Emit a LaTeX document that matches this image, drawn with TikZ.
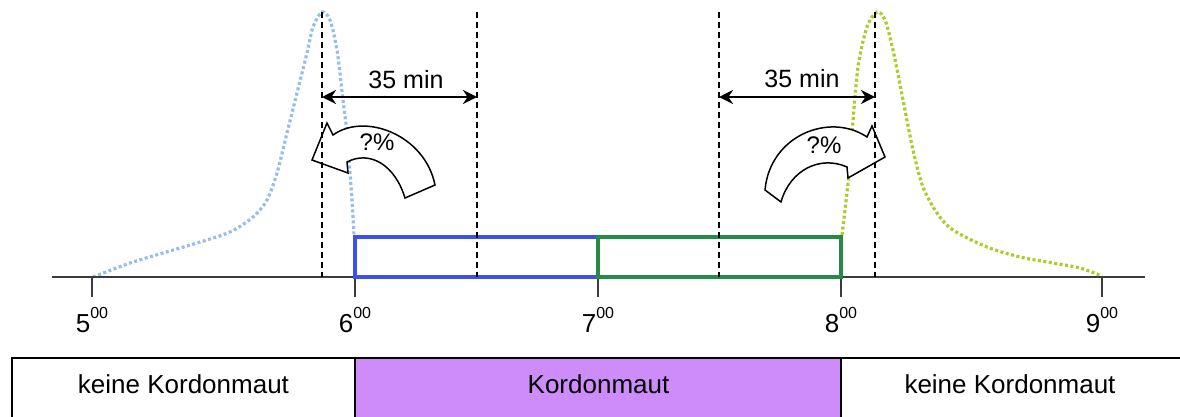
\documentclass[tikz,border=0pt]{standalone}
\usepackage{fontspec}
\setmainfont{Liberation Sans}
\usetikzlibrary{arrows.meta}
\definecolor{kblue}{RGB}{60,80,235}
\definecolor{kgreen}{RGB}{35,140,70}
\definecolor{lblue}{RGB}{150,190,235}
\definecolor{lgreen}{RGB}{170,205,40}
\definecolor{kpurple}{RGB}{206,140,250}
\definecolor{axisgray}{RGB}{60,60,60}
\newcommand{\tlab}[1]{#1\raisebox{14pt}{\fontsize{16}{16}\selectfont 00}}
\begin{document}
\begin{tikzpicture}[x=1pt,y=-1pt,
  big/.style={font=\fontsize{25}{28}\selectfont, inner sep=0pt},
  cell/.style={font=\fontsize{26}{30}\selectfont, inner sep=0pt, anchor=base},
  ticklab/.style={font=\fontsize{26}{30}\selectfont, inner sep=0pt, anchor=base},
  guide/.style={draw=black, line width=1.8pt, dash pattern=on 6pt off 4pt},
  dimarrow/.style={draw=black, line width=2.8pt, {Stealth[length=14pt,width=14pt]}-{Stealth[length=14pt,width=14pt]}},
  distcurve/.style={line width=3.2pt, dash pattern=on 3pt off 2.5pt},
  bendarrow/.style={draw=black, fill=white, line width=1.5pt, line join=miter},
  tickline/.style={draw=axisgray, line width=1.8pt}
]
\useasboundingbox (0,0) rectangle (1180,416);

% distribution curves
\draw[distcurve, lblue] plot[smooth, tension=0.5] coordinates {(93,277) (130,263) (163,253) (197,243) (230,232) (253,217) (267,200) (277,173) (287,133) (297,93) (307,53) (313,27) (322,12) (330,20) (337,50) (343,100) (347,133) (350,173) (352,200) (354,235)};
\draw[distcurve, lgreen] plot[smooth, tension=0.5] coordinates {(842,235) (848,183) (852,133) (858,67) (867,27) (877,12) (885,20) (893,50) (903,100) (913,150) (923,187) (937,213) (953,230) (987,247) (1020,257) (1053,263) (1080,268) (1102,276)};

% axis
\coordinate (axL) at (52,277);
\coordinate (axR) at (1145,277);
\draw[tickline] (axL) -- (axR);
\foreach \n/\x in {5/92,6/355,7/598,8/841,9/1102}{
  \coordinate (tk\n) at (\x,277);
  \coordinate (tb\n) at (\x,297);
  \draw[tickline] (tk\n) -- (tb\n);
  \node[ticklab] (lab\n) at (\x,332) {\tlab{\n}};
}

% time windows
\coordinate (b1) at (355,237); \coordinate (b2) at (598,277);
\coordinate (g1) at (598,237); \coordinate (g2) at (841,277);
\draw[kblue, line width=3.2pt] (b1) rectangle (b2);
\draw[kgreen, line width=3.2pt] (g1) rectangle (g2);

% curved arrows
\draw[bendarrow] (312,160) -- (327,123) -- (333,135) .. controls (365,112) and (425,135) .. (435,185) -- (405,198) .. controls (395,165) and (370,150) .. (347,162) -- (348,173) -- cycle;
\draw[bendarrow] (885,157) -- (872,126) -- (867,137) .. controls (830,112) and (770,135) .. (765,190) -- (781,202) .. controls (790,170) and (820,155) .. (847,167) -- (848,178) -- cycle;
\node[big, anchor=base, font=\fontsize{24}{28}\selectfont] (pl) at (377,150) {?\%};
\node[big, anchor=base, font=\fontsize{24}{28}\selectfont] (pr) at (824,153) {?\%};

% guide lines
\foreach \n/\x in {a/322,b/477,c/719,d/875}{
  \coordinate (gt\n) at (\x,12);
  \coordinate (gb\n) at (\x,277);
  \draw[guide] (gt\n) -- (gb\n);
}

% 35 min arrows
\coordinate (la) at (322,97); \coordinate (lb) at (477,97);
\coordinate (ra) at (719,97); \coordinate (rb) at (875,97);
\draw[dimarrow] (la) -- (lb);
\draw[dimarrow] (ra) -- (rb);
\node[big, anchor=base] (tl) at (406,88) {35 min};
\node[big, anchor=base] (tr) at (802,87) {35 min};

% table
\fill[kpurple] (355,358) rectangle (841,420);
\draw[black, line width=2.4pt] (12,420) -- (12,358) -- (1185,358);
\draw[black, line width=1.8pt] (355,358) -- (355,420);
\draw[black, line width=1.8pt] (841,358) -- (841,420);
\node[cell] (c1) at (183.5,393) {keine Kordonmaut};
\node[cell] (c2) at (598.5,393) {Kordonmaut};
\node[cell] (c3) at (1010,393) {keine Kordonmaut};
\end{tikzpicture}
\end{document}
